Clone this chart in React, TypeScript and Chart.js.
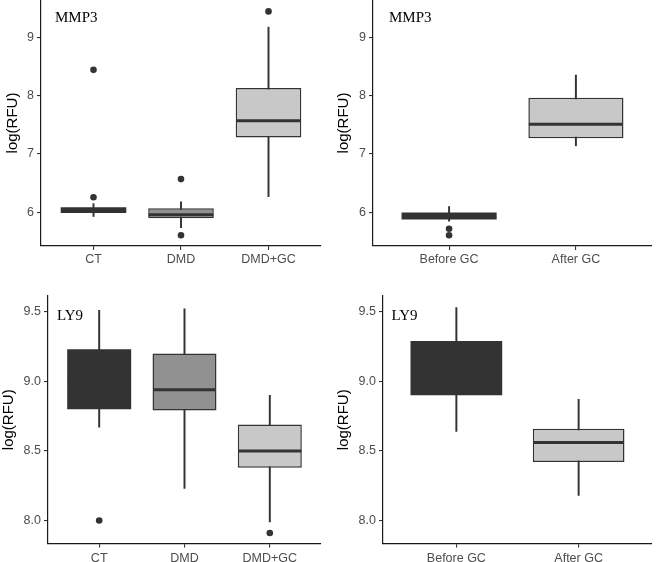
import React, { useEffect, useRef } from "react";
import { Chart, registerables } from "chart.js";

Chart.register(...registerables);

// ---------------- data ----------------
const groupsThree = ["CT", "DMD", "DMD+GC"];
const groupsTwo = ["Before GC", "After GC"];

// MMP3 – CT / DMD / DMD+GC
const mmp3ThreeLow = [5.93, 5.74, 6.27];
const mmp3ThreeQ1 = [5.99, 5.9, 7.28];
const mmp3ThreeMedian = [6.03, 5.96, 7.57];
const mmp3ThreeQ3 = [6.09, 6.07, 8.13];
const mmp3ThreeHigh = [6.15, 6.18, 9.17];
const mmp3ThreeOutliers = [[6.26, 8.44], [6.57, 5.61], [9.44]];

// MMP3 – Before / After GC
const mmp3TwoLow = [5.85, 7.14];
const mmp3TwoQ1 = [5.88, 7.27];
const mmp3TwoMedian = [5.92, 7.51];
const mmp3TwoQ3 = [6.0, 7.96];
const mmp3TwoHigh = [6.1, 8.35];
const mmp3TwoOutliers = [[5.72, 5.61], []];

// LY9 – CT / DMD / DMD+GC
const ly9ThreeLow = [8.67, 8.23, 7.99];
const ly9ThreeQ1 = [8.8, 8.79, 8.38];
const ly9ThreeMedian = [9.0, 8.94, 8.5];
const ly9ThreeQ3 = [9.23, 9.2, 8.69];
const ly9ThreeHigh = [9.51, 9.52, 8.9];
const ly9ThreeOutliers = [[8.0], [], [7.91]];

// LY9 – Before / After GC
const ly9TwoLow = [8.64, 8.18];
const ly9TwoQ1 = [8.9, 8.42];
const ly9TwoMedian = [9.1, 8.56];
const ly9TwoQ3 = [9.29, 8.66];
const ly9TwoHigh = [9.53, 8.87];
const ly9TwoOutliers = [[], []];

// axes
const mmp3YRange = [5.425, 9.635];
const mmp3YTicks = [6, 7, 8, 9];
const mmp3YTickLabels = ["6", "7", "8", "9"];
const ly9YRange = [7.835, 9.613];
const ly9YTicks = [8.0, 8.5, 9.0, 9.5];
const ly9YTickLabels = ["8.0", "8.5", "9.0", "9.5"];

const fillsThree = ["#333333", "#919191", "#c8c8c8"];
const fillsTwo = ["#333333", "#c8c8c8"];

const yTitle = "log(RFU)";

// ---------------- styling ----------------
const INK = "#333333";
const AXIS_TEXT = "#4d4d4d";
const SANS = '"Liberation Sans", Arial, sans-serif';
const SERIF = '"Liberation Serif", "Times New Roman", serif';
const BOX_WIDTH = 0.75;

const panelLabelPlugin = {
  id: "panelLabel",
  afterDatasetsDraw(chart: any, _args: any, opts: any) {
    const { ctx, chartArea } = chart;
    ctx.save();
    ctx.font = `15px ${SERIF}`;
    ctx.fillStyle = "#000000";
    ctx.textAlign = "left";
    ctx.textBaseline = "alphabetic";
    ctx.fillText(opts.text, chartArea.left + opts.dx, chartArea.top + opts.dy);
    ctx.restore();
  },
};

type PanelCfg = {
  label: string;
  categories: string[];
  low: number[];
  q1: number[];
  median: number[];
  q3: number[];
  high: number[];
  outliers: number[][];
  fills: string[];
  yRange: number[];
  yTicks: number[];
  yTickLabels: string[];
  layout: {
    left: number;
    top: number;
    yAxisWidth: number;
    padTop: number;
    padRight: number;
    xAxisHeight: number;
    xTickPad: number;
    titlePad: number;
    labelDx: number;
    labelDy: number;
  };
};

const W = 329;
const H = 281;

function BoxPanel({ cfg }: { cfg: PanelCfg }) {
  const ref = useRef<HTMLCanvasElement>(null);

  useEffect(() => {
    if (!ref.current) return;
    const xs = cfg.categories.map((_, i) => i + 1);
    const n = cfg.categories.length;
    const halfBox = (ctx: any) => {
      const s = ctx.chart.scales.x;
      return Math.abs(s.getPixelForValue(1 + BOX_WIDTH / 2) - s.getPixelForValue(1)) - 0.5;
    };
    const outlierPoints: { x: number; y: number }[] = [];
    cfg.outliers.forEach((arr, i) => arr.forEach((v) => outlierPoints.push({ x: xs[i], y: v })));

    const chart = new Chart(ref.current, {
      type: "bar",
      data: {
        datasets: [
          {
            type: "scatter",
            data: outlierPoints,
            pointRadius: 3.3,
            pointBackgroundColor: INK,
            pointBorderColor: INK,
            pointBorderWidth: 0,
            order: 0,
          } as any,
          {
            type: "scatter",
            data: xs.map((x, i) => ({ x, y: cfg.median[i] })),
            pointStyle: "line",
            pointRadius: halfBox,
            pointBorderColor: INK,
            pointBackgroundColor: INK,
            pointBorderWidth: 3,
            order: 1,
          } as any,
          {
            type: "bar",
            data: xs.map((x, i) => ({ x, y: [cfg.q1[i], cfg.q3[i]] })),
            backgroundColor: cfg.fills,
            borderColor: INK,
            borderWidth: cfg.fills.map((f) => (f === INK ? 0 : 1.5)),
            borderSkipped: false,
            grouped: false,
            barPercentage: BOX_WIDTH,
            categoryPercentage: 1,
            order: 2,
          } as any,
          {
            type: "bar",
            data: xs.map((x, i) => ({ x, y: [cfg.low[i], cfg.high[i]] })),
            backgroundColor: INK,
            borderWidth: 0,
            barThickness: 1.3,
            grouped: false,
            order: 3,
          } as any,
        ],
      },
      options: {
        responsive: false,
        animation: false,
        events: [],
        layout: {
          autoPadding: false,
          padding: { top: cfg.layout.padTop, right: cfg.layout.padRight, left: 0, bottom: 0 },
        },
        plugins: {
          legend: { display: false },
          tooltip: { enabled: false },
          panelLabel: { text: cfg.label, dx: cfg.layout.labelDx, dy: cfg.layout.labelDy },
        } as any,
        scales: {
          x: {
            type: "linear",
            min: 0.4,
            max: n + 0.6,
            bounds: "data",
            offset: false,
            afterBuildTicks: (s: any) => {
              s.ticks = xs.map((v) => ({ value: v }));
            },
            afterFit: (s: any) => {
              s.height = cfg.layout.xAxisHeight;
              s.paddingLeft = 0;
              s.paddingRight = 0;
              s.paddingTop = 0;
              s.paddingBottom = 0;
            },
            ticks: {
              autoSkip: false,
              maxRotation: 0,
              minRotation: 0,
              padding: cfg.layout.xTickPad,
              color: AXIS_TEXT,
              font: { family: SANS, size: 12.5 },
              callback: (_v: any, i: number) => cfg.categories[i],
            },
            grid: {
              offset: false,
              drawOnChartArea: false,
              drawTicks: true,
              tickLength: 4,
              color: INK,
              lineWidth: 1.1,
            },
            border: { display: true, color: "#1a1a1a", width: 1.2 },
          } as any,
          y: {
            type: "linear",
            min: cfg.yRange[0],
            max: cfg.yRange[1],
            bounds: "data",
            beginAtZero: false,
            afterBuildTicks: (s: any) => {
              s.ticks = cfg.yTicks.map((v) => ({ value: v }));
            },
            afterFit: (s: any) => {
              s.width = cfg.layout.yAxisWidth;
              s.paddingLeft = 0;
              s.paddingRight = 0;
              s.paddingTop = 0;
              s.paddingBottom = 0;
            },
            ticks: {
              padding: 3,
              color: AXIS_TEXT,
              font: { family: SANS, size: 12.5 },
              callback: (_v: any, i: number) => cfg.yTickLabels[i],
            },
            grid: {
              drawOnChartArea: false,
              drawTicks: true,
              tickLength: 4,
              color: INK,
              lineWidth: 1.1,
            },
            border: { display: true, color: "#1a1a1a", width: 1.2 },
            title: {
              display: true,
              text: yTitle,
              color: "#000000",
              font: { family: SANS, size: 15 },
              padding: { top: cfg.layout.titlePad, bottom: 0 },
            },
          } as any,
        },
      },
      plugins: [panelLabelPlugin as any],
    });
    return () => chart.destroy();
  }, [cfg]);

  return (
    <canvas
      ref={ref}
      width={W}
      height={H}
      style={{
        position: "absolute",
        left: cfg.layout.left,
        top: cfg.layout.top,
        width: W,
        height: H,
        display: "block",
      }}
    />
  );
}

const panels: PanelCfg[] = [
  {
    label: "MMP3",
    categories: groupsThree,
    low: mmp3ThreeLow,
    q1: mmp3ThreeQ1,
    median: mmp3ThreeMedian,
    q3: mmp3ThreeQ3,
    high: mmp3ThreeHigh,
    outliers: mmp3ThreeOutliers,
    fills: fillsThree,
    yRange: mmp3YRange,
    yTicks: mmp3YTicks,
    yTickLabels: mmp3YTickLabels,
    layout: { left: 0, top: 0, yAxisWidth: 41, padTop: 0, padRight: 8, xAxisHeight: 35, xTickPad: 2, titlePad: 4, labelDx: 14, labelDy: 22 },
  },
  {
    label: "MMP3",
    categories: groupsTwo,
    low: mmp3TwoLow,
    q1: mmp3TwoQ1,
    median: mmp3TwoMedian,
    q3: mmp3TwoQ3,
    high: mmp3TwoHigh,
    outliers: mmp3TwoOutliers,
    fills: fillsTwo,
    yRange: mmp3YRange,
    yTicks: mmp3YTicks,
    yTickLabels: mmp3YTickLabels,
    layout: { left: 329, top: 0, yAxisWidth: 44, padTop: 0, padRight: 6, xAxisHeight: 35, xTickPad: 2, titlePad: 5.5, labelDx: 16, labelDy: 22 },
  },
  {
    label: "LY9",
    categories: groupsThree,
    low: ly9ThreeLow,
    q1: ly9ThreeQ1,
    median: ly9ThreeMedian,
    q3: ly9ThreeQ3,
    high: ly9ThreeHigh,
    outliers: ly9ThreeOutliers,
    fills: fillsThree,
    yRange: ly9YRange,
    yTicks: ly9YTicks,
    yTickLabels: ly9YTickLabels,
    layout: { left: 0, top: 281, yAxisWidth: 48, padTop: 15, padRight: 8, xAxisHeight: 18.5, xTickPad: 4, titlePad: 0, labelDx: 9, labelDy: 24 },
  },
  {
    label: "LY9",
    categories: groupsTwo,
    low: ly9TwoLow,
    q1: ly9TwoQ1,
    median: ly9TwoMedian,
    q3: ly9TwoQ3,
    high: ly9TwoHigh,
    outliers: ly9TwoOutliers,
    fills: fillsTwo,
    yRange: ly9YRange,
    yTicks: ly9YTicks,
    yTickLabels: ly9YTickLabels,
    layout: { left: 329, top: 281, yAxisWidth: 54, padTop: 15, padRight: 6, xAxisHeight: 18.5, xTickPad: 4, titlePad: 5.5, labelDx: 8.5, labelDy: 24 },
  },
];

export default function App() {
  return (
    <div
      style={{
        position: "absolute",
        left: 0,
        top: 0,
        width: 658,
        height: 562,
        overflow: "hidden",
        background: "#ffffff",
      }}
    >
      {panels.map((p, i) => (
        <BoxPanel key={i} cfg={p} />
      ))}
    </div>
  );
}
